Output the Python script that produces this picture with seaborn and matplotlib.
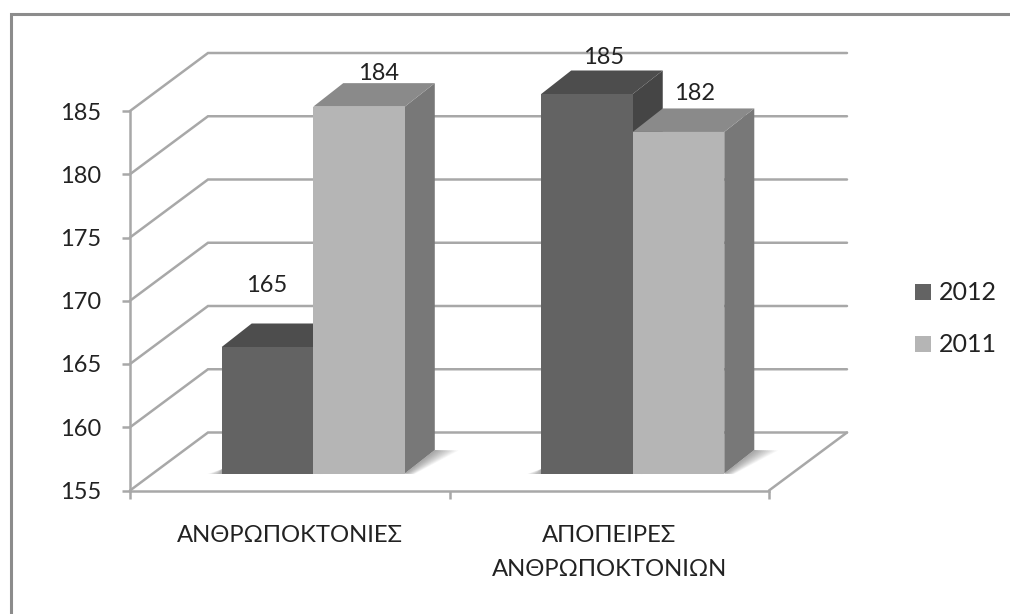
import matplotlib
matplotlib.use("Agg")
import matplotlib.pyplot as plt
import pandas as pd
import seaborn as sns
from matplotlib.lines import Line2D
from matplotlib.patches import Polygon, Rectangle

# values
categories = ["ΑΝΘΡΩΠΟΚΤΟΝΙΕΣ", "ΑΠΟΠΕΙΡΕΣ\nΑΝΘΡΩΠΟΚΤΟΝΙΩΝ"]
values_2012 = [165, 185]
values_2011 = [184, 182]
years = ["2012", "2011"]
y_ticks = [155, 160, 165, 170, 175, 180, 185]

W, H = 1010, 614
GRID = "#a8a8a8"
front = {"2012": "#636363", "2011": "#b5b5b5"}
top = {"2012": "#4d4d4d", "2011": "#8a8a8a"}
side = {"2012": "#454545", "2011": "#787878"}
# where each value label sits, px from the front top of its bar (2012 a, b, 2011 a, b)
label_shift = [(-1, 61), (17, 37), (19, 33), (16, 38)]


def px_axes(fig, x0, x1, y_top, y_bottom):
    return fig.add_axes([x0 / W, 1 - y_bottom / H, (x1 - x0) / W, (y_bottom - y_top) / H])


df = pd.DataFrame({
    "category": categories * 2,
    "year": [years[0]] * 2 + [years[1]] * 2,
    "value": values_2012 + values_2011,
})

sns.set_theme(style="white")
plt.rcParams["font.family"] = ["Lato", "DejaVu Sans"]
plt.rcParams["font.size"] = 17

fig = plt.figure(figsize=(W / 100, H / 100), dpi=100)
# outer frame only shows on the top and left
fig.add_artist(Line2D([10.5 / W, 10.5 / W, 1], [0, 1 - 13.5 / H, 1 - 13.5 / H],
                      transform=fig.transFigure, color="#8c8c8c", lw=2.2,
                      solid_joinstyle="miter"))

# front plane of the chart: axis lines, ticks, labels
ax = px_axes(fig, 130, 769, 111, 490.5)
ax.set_xlim(-0.5, 1.5)
ax.set_ylim(y_ticks[0], y_ticks[-1])
ax.patch.set_alpha(0)
for name in ["top", "right"]:
    ax.spines[name].set_visible(False)
for name in ["left", "bottom"]:
    ax.spines[name].set_color(GRID)
    ax.spines[name].set_linewidth(1.8)
ax.set_yticks(y_ticks)
ax.set_xticks([-0.5, 0.5, 1.5])
ax.set_xticklabels([])
ax.tick_params(left=True, bottom=True, length=6, width=1.8, color=GRID,
               labelsize=17, labelcolor="#222222")
ax.tick_params(axis="y", pad=15)

# depth of the back wall, px turned into data units
xunit = 319.5
yunit = 379.5 / 30
wall_x = 78 / xunit
wall_y = 58 / yunit
x0, x1 = ax.get_xlim()
for t in y_ticks:
    ax.plot([x0, x0 + wall_x, x1 + wall_x], [t, t + wall_y, t + wall_y],
            color=GRID, lw=1.8, clip_on=False, solid_joinstyle="miter", zorder=1)
ax.plot([x1, x1 + wall_x], [y_ticks[0], y_ticks[0] + wall_y], color=GRID, lw=1.8,
        clip_on=False, zorder=1)

for i, cat in enumerate(categories):
    ax.text(i, 152.3, cat, ha="center", va="top", fontsize=17.2, color="#222222",
            linespacing=1.8)

# bars stand a little behind the front plane, so they get their own axes
bx = px_axes(fig, 153.5, 792.5, 94, 473.5)
sns.barplot(data=df, x="category", y="value", hue="year", hue_order=years, palette=front,
            width=0.573, gap=0, saturation=1, dodge=True, legend=False, ax=bx, zorder=3)
bx.set_xlim(-0.5, 1.5)
bx.set_ylim(y_ticks[0], y_ticks[-1])
bx.axis("off")

bar_dx = 30 / xunit
bar_dy = 23.5 / yunit
base = y_ticks[0]
n = len(categories)
bars = bx.patches[:2 * n]
for j, bar in enumerate(bars):
    year = years[j // n]
    val = bar.get_height()
    left = bar.get_x()
    right = left + bar.get_width()
    # soft floor shadow, a few see-through layers
    for k in range(1, 13):
        grow = k * 2 / xunit
        bx.add_patch(Polygon([(right, base), (right + bar_dx, base + bar_dy),
                              (right + bar_dx + grow, base + bar_dy - 0.03),
                              (right + grow * 0.4, base - 0.05)],
                             fc="black", ec="none", alpha=0.03, zorder=2, clip_on=False))
        bx.add_patch(Polygon([(left - grow * 0.6, base), (left, base), (left, base + 0.35)],
                             fc="black", ec="none", alpha=0.03, zorder=2, clip_on=False))
    bx.add_patch(Polygon([(right, base), (right + bar_dx, base + bar_dy),
                          (right + bar_dx, val + bar_dy), (right, val)],
                         fc=side[year], ec="none", zorder=3 + j, clip_on=False))
    bx.add_patch(Polygon([(left, val), (left + bar_dx, val + bar_dy),
                          (right + bar_dx, val + bar_dy), (right, val)],
                         fc=top[year], ec="none", zorder=3 + j, clip_on=False))
    bar.set_zorder(3.5 + j)
    bar.set_linewidth(0)
    sx, sy = label_shift[j]
    bx.text((left + right) / 2 + sx / xunit, val + sy / yunit, str(int(val)), ha="center",
            va="center", fontsize=17, color="#222222", zorder=20)

# legend drawn by hand to keep its square swatches
lx = px_axes(fig, 0, W, 0, H)
lx.set_xlim(0, W)
lx.set_ylim(H, 0)
lx.axis("off")
for year, ypos in zip(years, [292, 344]):
    lx.add_patch(Rectangle((915, ypos - 8), 16, 16, fc=front[year], ec="none"))
    lx.text(939, ypos - 1.5, year, va="center_baseline", fontsize=18, color="#222222")

fig.savefig("out.png", dpi=100)
